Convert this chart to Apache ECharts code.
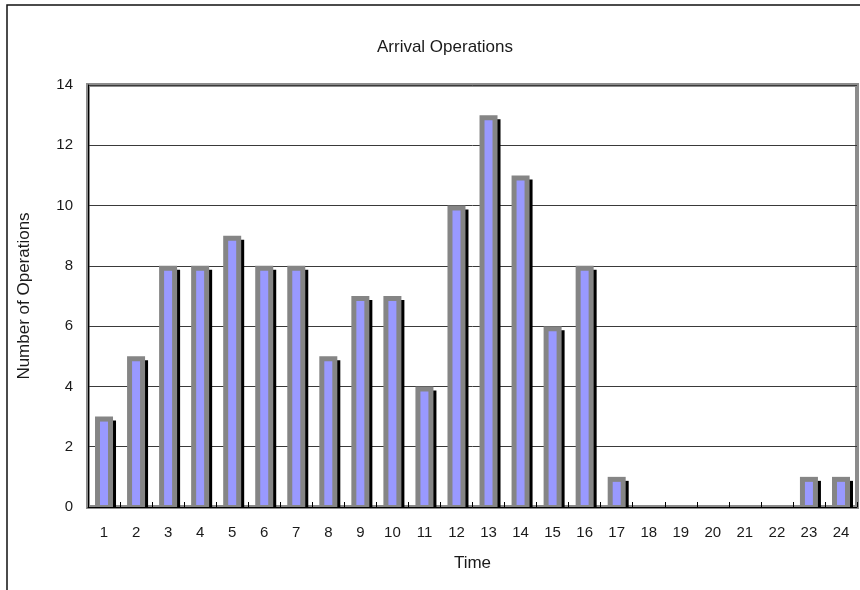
<!DOCTYPE html>
<html>
<head>
<meta charset="utf-8">
<script src="https://cdn.jsdelivr.net/npm/echarts@6/dist/echarts.min.js"></script>
<style>
  html, body { margin: 0; padding: 0; background: #fff; }
  #chart { width: 860px; height: 590px; }
</style>
</head>
<body>
<div id="chart"></div>
<script>
// Hourly arrival counts
const hours = ['1','2','3','4','5','6','7','8','9','10','11','12','13','14','15','16','17','18','19','20','21','22','23','24'];
const arrivals = [3, 5, 8, 8, 9, 8, 8, 5, 7, 7, 4, 10, 13, 11, 6, 8, 1, 0, 0, 0, 0, 0, 1, 1];
const yTicks = [0, 2, 4, 6, 8, 10, 12, 14];

const FONT = '"Liberation Sans", Arial, sans-serif';
const TEXT = '#1a1a1a';

// Excel-style bar: black drop shadow, grey frame, blue-violet core
function renderBar(params, api) {
  const v = api.value(1);
  if (!v) return null;
  const idx = api.value(0);
  const top = api.coord([idx, v]);
  const base = api.coord([idx, 0]);
  const cx = top[0];
  const h = base[1] - top[1];
  const outerW = 18, innerW = 8, frame = 5;
  return {
    type: 'group',
    children: [
      { type: 'rect', shape: { x: cx - outerW / 2 + 3, y: top[1] + 4, width: outerW, height: h - 4 },
        style: { fill: '#000000' } },
      { type: 'rect', shape: { x: cx - outerW / 2, y: top[1], width: outerW, height: h },
        style: { fill: '#858585' } },
      { type: 'rect', shape: { x: cx - innerW / 2, y: top[1] + frame, width: innerW, height: Math.max(0, h - frame - 2) },
        style: { fill: '#9999FF' } }
    ]
  };
}

const chart = echarts.init(document.getElementById('chart'), null, { renderer: 'canvas' });
chart.setOption({
  animation: false,
  backgroundColor: '#ffffff',
  title: {
    text: 'Arrival Operations',
    left: 440, top: 34, textAlign: 'center',
    textStyle: { fontFamily: FONT, fontSize: 17, fontWeight: 'normal', color: TEXT }
  },
  graphic: [
    { type: 'rect', shape: { x: 7, y: 5, width: 900, height: 640 },
      style: { fill: null, stroke: '#111', lineWidth: 1.5 }, silent: true, z: -10 }
  ],
  grid: {
    left: 88, top: 85, right: 3, bottom: 83,
    show: true, borderColor: '#8c8c8c', borderWidth: 4, backgroundColor: 'transparent'
  },
  xAxis: {
    type: 'category',
    data: hours,
    boundaryGap: true,
    name: 'Time',
    nameLocation: 'middle',
    nameGap: 48,
    nameTextStyle: { fontFamily: FONT, fontSize: 17, color: TEXT },
    axisLine: { show: true, lineStyle: { color: '#000', width: 1 } },
    axisTick: { show: true, inside: true, length: 5, alignWithLabel: false, lineStyle: { color: '#000' } },
    axisLabel: { fontFamily: FONT, fontSize: 15, color: TEXT, margin: 18, interval: 0 },
    splitLine: { show: false }
  },
  yAxis: {
    type: 'value',
    min: yTicks[0], max: yTicks[yTicks.length - 1], interval: yTicks[1] - yTicks[0],
    name: 'Number of Operations',
    nameLocation: 'middle',
    nameGap: 55,
    nameTextStyle: { fontFamily: FONT, fontSize: 17, color: TEXT },
    axisLine: { show: true, lineStyle: { color: '#000', width: 1 } },
    axisTick: { show: false },
    axisLabel: { fontFamily: FONT, fontSize: 15, color: TEXT, margin: 15 },
    splitLine: { show: true, lineStyle: { color: '#3a3a3a', width: 1 } }
  },
  series: [{
    type: 'custom',
    renderItem: renderBar,
    encode: { x: 0, y: 1 },
    data: arrivals.map((v, i) => [i, v]),
    z: 5
  }]
});
</script>
</body>
</html>
